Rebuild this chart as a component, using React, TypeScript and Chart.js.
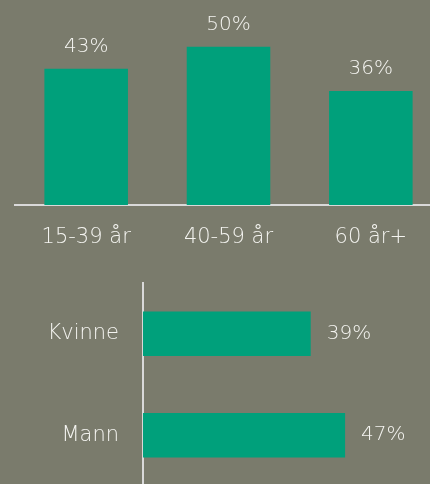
import React, { useEffect, useRef } from "react";
import { Chart, registerables } from "chart.js";

Chart.register(...registerables);

const ageCategories = ["15-39 år", "40-59 år", "60 år+"];
const ageValues = [43, 50, 36];
const genderCategories = ["Kvinne", "Mann"];
const genderValues = [39, 47];

const BG = "#7a7b6c";
const BAR = "#00a07b";
const TEXT = "#f4f4f0";
const LINE = "#d9d9d9";
const FONT = '"DejaVu Sans", sans-serif';

const valueLabels = (horizontal: boolean) => ({
  id: "valueLabels",
  afterDatasetsDraw(chart: any) {
    const ctx = chart.ctx;
    const meta = chart.getDatasetMeta(0);
    const data = chart.data.datasets[0].data as number[];
    ctx.save();
    ctx.fillStyle = TEXT;
    ctx.font = `200 20px ${FONT}`;
    ctx.textBaseline = "middle";
    meta.data.forEach((el: any, i: number) => {
      const label = `${data[i]}%`;
      if (horizontal) {
        ctx.textAlign = "left";
        ctx.fillText(label, el.x + 16, el.y);
      } else {
        ctx.textAlign = "center";
        ctx.fillText(label, el.x, el.y - 22);
      }
    });
    ctx.restore();
  },
});

export default function App() {
  const topRef = useRef<HTMLCanvasElement>(null);
  const botRef = useRef<HTMLCanvasElement>(null);

  useEffect(() => {
    const top = new Chart(topRef.current!, {
      type: "bar",
      data: {
        labels: ageCategories,
        datasets: [
          {
            data: ageValues,
            backgroundColor: BAR,
            categoryPercentage: 1,
            barPercentage: 0.587,
          },
        ],
      },
      options: {
        animation: false,
        responsive: false,
        maintainAspectRatio: false,
        layout: { padding: { left: 15, right: 18, top: 15, bottom: 0 } },
        plugins: { legend: { display: false }, tooltip: { enabled: false } },
        scales: {
          x: {
            grid: { display: false, drawTicks: false },
            border: { display: true, color: LINE, width: 2 },
            ticks: {
              color: TEXT,
              padding: 20,
              font: { family: FONT, size: 21, weight: "200" as any },
              maxRotation: 0,
            },
            afterFit: (scale: any) => {
              scale.height = 62;
              scale.paddingLeft = 0;
              scale.paddingRight = 0;
            },
          },
          y: { display: false, min: 0, max: 60 },
        },
      },
      plugins: [valueLabels(false)],
    });

    const bot = new Chart(botRef.current!, {
      type: "bar",
      data: {
        labels: genderCategories,
        datasets: [
          {
            data: genderValues,
            backgroundColor: BAR,
            categoryPercentage: 1,
            barPercentage: 0.44,
          },
        ],
      },
      options: {
        indexAxis: "y",
        animation: false,
        responsive: false,
        maintainAspectRatio: false,
        layout: { padding: { left: 0, right: 29, top: 13, bottom: 14 } },
        plugins: { legend: { display: false }, tooltip: { enabled: false } },
        scales: {
          x: { display: false, min: 0, max: 60 },
          y: {
            grid: { display: false, drawTicks: false },
            border: { display: true, color: LINE, width: 2 },
            ticks: {
              color: TEXT,
              padding: 24,
              font: { family: FONT, size: 21, weight: "200" as any },
            },
            afterFit: (scale: any) => {
              scale.width = 143;
              scale.paddingTop = 0;
              scale.paddingBottom = 0;
            },
          },
        },
      },
      plugins: [valueLabels(true)],
    });

    return () => {
      top.destroy();
      bot.destroy();
    };
  }, []);

  return (
    <div
      style={{
        position: "fixed",
        left: 0,
        top: 0,
        width: 430,
        height: 484,
        background: BG,
        overflow: "hidden",
      }}
    >
      <canvas
        ref={topRef}
        width={460}
        height={267}
        style={{ position: "absolute", left: 0, top: 0, width: 460, height: 267 }}
      />
      <canvas
        ref={botRef}
        width={430}
        height={230}
        style={{ position: "absolute", left: 0, top: 270, width: 430, height: 230 }}
      />
    </div>
  );
}
